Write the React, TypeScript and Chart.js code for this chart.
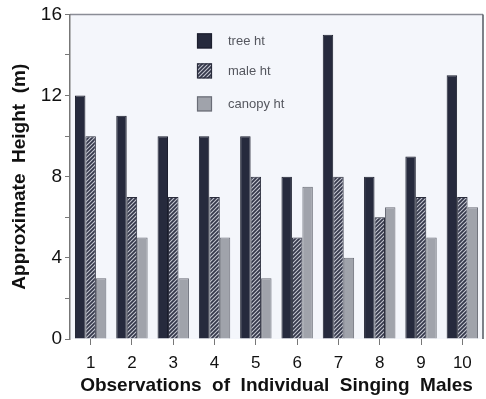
import React, { useEffect, useRef } from "react";
import { Chart, registerables } from "chart.js";

Chart.register(...registerables);

const categories = ["1", "2", "3", "4", "5", "6", "7", "8", "9", "10"];
const treeHt = [12, 11, 10, 10, 10, 8, 15, 8, 9, 13];
const maleHt = [10, 7, 7, 7, 8, 5, 8, 6, 7, 7];
const canopyHt = [3, 5, 3, 5, 3, 7.5, 4, 6.5, 5, 6.5];
const seriesNames = ["tree ht", "male ht", "canopy ht"];
const yTickLabels = [0, 4, 8, 12, 16];

const FONT = "'Liberation Sans', Arial, sans-serif";

function makeHatch(): CanvasPattern | string {
  const c = document.createElement("canvas");
  c.width = 4;
  c.height = 4;
  const g = c.getContext("2d");
  if (!g) return "#555";
  g.fillStyle = "#34374a";
  g.fillRect(0, 0, 4, 4);
  g.strokeStyle = "#c4c6cf";
  g.lineWidth = 1.1;
  g.beginPath();
  g.moveTo(-1, 5);
  g.lineTo(5, -1);
  g.moveTo(-1, 1);
  g.lineTo(1, -1);
  g.moveTo(3, 5);
  g.lineTo(5, 3);
  g.stroke();
  const p = g.createPattern(c, "repeat");
  return p || "#555";
}

const bgPlugin = {
  id: "plotBg",
  beforeDraw(chart: any) {
    const { ctx, chartArea } = chart;
    ctx.save();
    ctx.fillStyle = "#f4f6fb";
    ctx.fillRect(chartArea.left, chartArea.top, chartArea.right - chartArea.left, chartArea.bottom - chartArea.top);
    ctx.strokeStyle = "#8a8d96";
    ctx.lineWidth = 1.5;
    ctx.beginPath();
    ctx.moveTo(chartArea.left, chartArea.top);
    ctx.lineTo(chartArea.right, chartArea.top);
    ctx.stroke();
    ctx.strokeStyle = "#555862";
    ctx.beginPath();
    ctx.moveTo(chartArea.right, chartArea.top);
    ctx.lineTo(chartArea.right, chartArea.bottom);
    ctx.stroke();
    ctx.restore();
  },
};

const legendPlugin = {
  id: "innerLegend",
  afterDatasetsDraw(chart: any) {
    const { ctx, chartArea } = chart;
    const rowTops = [19, 49, 82];
    ctx.save();
    chart.data.datasets.forEach((ds: any, i: number) => {
      const x = chartArea.left + 127;
      const y = chartArea.top + rowTops[i];
      ctx.fillStyle = ds.backgroundColor;
      ctx.fillRect(x, y, 15, 15);
      ctx.strokeStyle = ds.borderColor;
      ctx.lineWidth = 1.2;
      ctx.strokeRect(x + 0.5, y + 0.5, 14, 14);
      ctx.fillStyle = "#55575f";
      ctx.font = `13px ${FONT}`;
      ctx.textBaseline = "middle";
      ctx.fillText(ds.label, x + 31, y + 8);
    });
    ctx.restore();
  },
};

export default function App() {
  const ref = useRef<HTMLCanvasElement | null>(null);
  useEffect(() => {
    document.body.style.margin = "0";
    const canvas = ref.current;
    if (!canvas) return;
    const hatch = makeHatch();
    const chart = new Chart(canvas, {
      type: "bar",
      data: {
        labels: categories,
        datasets: [
          { label: seriesNames[0], data: treeHt, backgroundColor: "#262a3d", borderColor: "#1c1f2e", borderWidth: 1 },
          { label: seriesNames[1], data: maleHt, backgroundColor: hatch as any, borderColor: "#2a2d3c", borderWidth: 1 },
          { label: seriesNames[2], data: canopyHt, backgroundColor: "#a0a3ab", borderColor: "#6a6d77", borderWidth: 1 },
        ],
      },
      options: {
        animation: false,
        responsive: false,
        devicePixelRatio: 1,
        layout: { padding: { top: 11, right: 3, left: 0, bottom: 0 } },
        datasets: { bar: { categoryPercentage: 0.76, barPercentage: 1 } },
        plugins: { legend: { display: false }, tooltip: { enabled: false } },
        scales: {
          x: {
            type: "category",
            grid: { display: true, drawOnChartArea: false, offset: false, tickLength: 6, color: "#777" },
            border: { display: false },
            ticks: { color: "#111", font: { size: 17, family: FONT }, padding: 8, maxRotation: 0 },
            title: {
              display: true,
              text: "Observations  of  Individual  Singing  Males",
              color: "#111",
              font: { size: 19, weight: "bold", family: FONT },
              padding: { top: 0, bottom: 2 },
            },
            afterFit: (s: any) => { s.height = 60; },
          },
          y: {
            min: 0,
            max: 16,
            grid: { display: true, drawOnChartArea: false, tickLength: 5, color: "#777" },
            border: { display: true, color: "#777", width: 1.5 },
            ticks: {
              stepSize: 2,
              color: "#111",
              font: { size: 19, family: FONT },
              padding: 3,
              callback: (v: any) => (yTickLabels.includes(Number(v)) ? String(v) : ""),
            },
            title: {
              display: true,
              text: "Approximate  Height  (m)",
              color: "#111",
              font: { size: 19, weight: "bold", family: FONT },
              padding: { top: 8, bottom: 0 },
            },
            afterFit: (s: any) => { s.width = 70; },
          },
        },
      },
      plugins: [bgPlugin, legendPlugin],
    });
    return () => chart.destroy();
  }, []);
  return <canvas ref={ref} width={486} height={399} style={{ display: "block" }} />;
}
